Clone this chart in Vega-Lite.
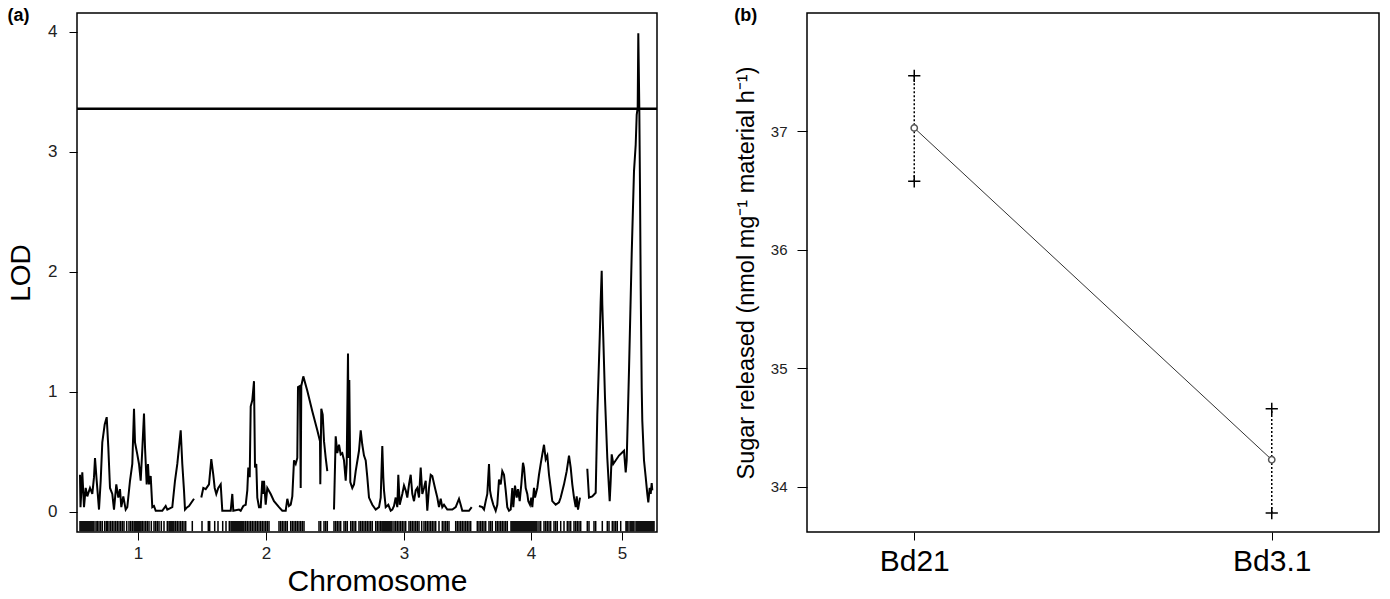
{
  "$schema": "https://vega.github.io/schema/vega-lite/v6.json",
  "background": "white",
  "padding": {"left": 6, "top": 6, "right": 8, "bottom": 4},
  "spacing": 74,
  "config": {
    "font": "Liberation Sans",
    "view": {"stroke": "black", "strokeWidth": 1.5},
    "axis": {"grid": false, "domain": false, "tickColor": "black", "tickSize": 8, "labelColor": "#222", "titleColor": "black", "titleFontWeight": "normal", "labelFont": "Liberation Sans", "titleFont": "Liberation Sans"},
    "title": {"anchor": "start", "frame": "bounds", "fontSize": 18, "fontWeight": "bold", "offset": 0, "dy": 16, "color": "black", "font": "Liberation Sans"}
  },
  "datasets": {
    "lod": [
      {"chr":1,"pos":3,"lod":0.31},{"chr":1,"pos":3.5,"lod":0.04},{"chr":1,"pos":5.3,"lod":0.33},{"chr":1,"pos":7,"lod":0.04},{"chr":1,"pos":8.7,"lod":0.2},{"chr":1,"pos":10.3,"lod":0.13},{"chr":1,"pos":13,"lod":0.2},{"chr":1,"pos":15.3,"lod":0.15},{"chr":1,"pos":17,"lod":0.29},{"chr":1,"pos":18,"lod":0.45},{"chr":1,"pos":19.7,"lod":0.26},{"chr":1,"pos":22,"lod":0.02},{"chr":1,"pos":23.7,"lod":0.26},{"chr":1,"pos":25.3,"lod":0.58},{"chr":1,"pos":27.7,"lod":0.73},{"chr":1,"pos":29.7,"lod":0.79},{"chr":1,"pos":31.3,"lod":0.54},{"chr":1,"pos":33,"lod":0.2},{"chr":1,"pos":35.3,"lod":0.15},{"chr":1,"pos":37,"lod":0.02},{"chr":1,"pos":39.3,"lod":0.23},{"chr":1,"pos":41.3,"lod":0.12},{"chr":1,"pos":43,"lod":0.19},{"chr":1,"pos":44.3,"lod":0.04},{"chr":1,"pos":46.3,"lod":0.13},{"chr":1,"pos":48.7,"lod":0.02},{"chr":1,"pos":50.3,"lod":0.04},{"chr":1,"pos":53,"lod":0.26},{"chr":1,"pos":55.3,"lod":0.4},{"chr":1,"pos":57,"lod":0.86},{"chr":1,"pos":58,"lod":0.58},{"chr":1,"pos":60.3,"lod":0.48},{"chr":1,"pos":62,"lod":0.4},{"chr":1,"pos":63.7,"lod":0.26},{"chr":1,"pos":65.3,"lod":0.52},{"chr":1,"pos":67,"lod":0.82},{"chr":1,"pos":68,"lod":0.54},{"chr":1,"pos":69.7,"lod":0.23},{"chr":1,"pos":71,"lod":0.4},{"chr":1,"pos":72,"lod":0.23},{"chr":1,"pos":73.7,"lod":0.3},{"chr":1,"pos":75.3,"lod":0.04},{"chr":1,"pos":77,"lod":0.05},{"chr":1,"pos":78.7,"lod":0.01},{"chr":1,"pos":82,"lod":0.01},{"chr":1,"pos":85.3,"lod":0.01},{"chr":1,"pos":88.7,"lod":0.05},{"chr":1,"pos":90.3,"lod":0.02},{"chr":1,"pos":95.3,"lod":0.04},{"chr":1,"pos":98,"lod":0.26},{"chr":1,"pos":100.3,"lod":0.4},{"chr":1,"pos":102,"lod":0.54},{"chr":1,"pos":103.7,"lod":0.68},{"chr":1,"pos":105.3,"lod":0.4},{"chr":1,"pos":107,"lod":0.18},{"chr":1,"pos":108,"lod":0.02},{"chr":1,"pos":110.3,"lod":0.04},{"chr":1,"pos":112,"lod":0.05},{"chr":1,"pos":117,"lod":0.11},
      {"chr":2,"pos":124.3,"lod":0.12},{"chr":2,"pos":126.3,"lod":0.2},{"chr":2,"pos":128.7,"lod":0.19},{"chr":2,"pos":132,"lod":0.23},{"chr":2,"pos":134.3,"lod":0.44},{"chr":2,"pos":136.3,"lod":0.31},{"chr":2,"pos":137.7,"lod":0.2},{"chr":2,"pos":139.3,"lod":0.15},{"chr":2,"pos":141.3,"lod":0.2},{"chr":2,"pos":143.7,"lod":0.23},{"chr":2,"pos":145.3,"lod":0.01},{"chr":2,"pos":153.7,"lod":0.01},{"chr":2,"pos":155.3,"lod":0.15},{"chr":2,"pos":156.3,"lod":0.01},{"chr":2,"pos":162,"lod":0.02},{"chr":2,"pos":163.7,"lod":0.01},{"chr":2,"pos":166.3,"lod":0.05},{"chr":2,"pos":168.7,"lod":0.06},{"chr":2,"pos":170.3,"lod":0.18},{"chr":2,"pos":171.3,"lod":0.37},{"chr":2,"pos":172.7,"lod":0.29},{"chr":2,"pos":173.7,"lod":0.88},{"chr":2,"pos":175.3,"lod":0.93},{"chr":2,"pos":177,"lod":1.09},{"chr":2,"pos":178,"lod":0.37},{"chr":2,"pos":179.3,"lod":0.4},{"chr":2,"pos":180.3,"lod":0.12},{"chr":2,"pos":182,"lod":0.04},{"chr":2,"pos":183.7,"lod":0.04},{"chr":2,"pos":185.3,"lod":0.26},{"chr":2,"pos":186.3,"lod":0.15},{"chr":2,"pos":187,"lod":0.26},{"chr":2,"pos":188.7,"lod":0.06},{"chr":2,"pos":190.3,"lod":0.2},{"chr":2,"pos":193.7,"lod":0.15},{"chr":2,"pos":197,"lod":0.09},{"chr":2,"pos":202,"lod":0.04},{"chr":2,"pos":205.3,"lod":0.01},{"chr":2,"pos":208.7,"lod":0.01},{"chr":2,"pos":210.3,"lod":0.11},{"chr":2,"pos":212,"lod":0.05},{"chr":2,"pos":213.7,"lod":0.06},{"chr":2,"pos":215.3,"lod":0.13},{"chr":2,"pos":217,"lod":0.43},{"chr":2,"pos":218.7,"lod":0.4},{"chr":2,"pos":220.3,"lod":0.45},{"chr":2,"pos":221,"lod":1.04},{"chr":2,"pos":223,"lod":1.05},{"chr":2,"pos":223.7,"lod":0.2},{"chr":2,"pos":224.3,"lod":1.05},{"chr":2,"pos":226.3,"lod":1.13},{"chr":2,"pos":230.3,"lod":1.01},{"chr":2,"pos":235.3,"lod":0.84},{"chr":2,"pos":240.3,"lod":0.68},{"chr":2,"pos":243,"lod":0.59},{"chr":2,"pos":243.3,"lod":0.23},{"chr":2,"pos":244.3,"lod":0.86},{"chr":2,"pos":245.7,"lod":0.81},{"chr":2,"pos":247,"lod":0.59},{"chr":2,"pos":248.7,"lod":0.45},{"chr":2,"pos":250.3,"lod":0.34},
      {"chr":3,"pos":257,"lod":0.02},{"chr":3,"pos":258.7,"lod":0.63},{"chr":3,"pos":260.3,"lod":0.49},{"chr":3,"pos":262,"lod":0.56},{"chr":3,"pos":263.7,"lod":0.48},{"chr":3,"pos":265.3,"lod":0.49},{"chr":3,"pos":267,"lod":0.43},{"chr":3,"pos":268.7,"lod":0.26},{"chr":3,"pos":269.7,"lod":0.4},{"chr":3,"pos":271,"lod":1.32},{"chr":3,"pos":271.7,"lod":0.45},{"chr":3,"pos":272.3,"lod":1.1},{"chr":3,"pos":273.3,"lod":0.25},{"chr":3,"pos":275.3,"lod":0.2},{"chr":3,"pos":277,"lod":0.23},{"chr":3,"pos":278.7,"lod":0.34},{"chr":3,"pos":282,"lod":0.51},{"chr":3,"pos":283.7,"lod":0.68},{"chr":3,"pos":285.3,"lod":0.56},{"chr":3,"pos":287,"lod":0.47},{"chr":3,"pos":288.7,"lod":0.43},{"chr":3,"pos":290.3,"lod":0.29},{"chr":3,"pos":292,"lod":0.12},{"chr":3,"pos":295.3,"lod":0.06},{"chr":3,"pos":298.7,"lod":0.02},{"chr":3,"pos":302,"lod":0.04},{"chr":3,"pos":303.7,"lod":0.12},{"chr":3,"pos":305.3,"lod":0.55},{"chr":3,"pos":306.3,"lod":0.29},{"chr":3,"pos":307,"lod":0.18},{"chr":3,"pos":308.7,"lod":0.04},{"chr":3,"pos":311.3,"lod":0.06},{"chr":3,"pos":313.7,"lod":0.01},{"chr":3,"pos":315.3,"lod":0.02},{"chr":3,"pos":317,"lod":0.05},{"chr":3,"pos":318.7,"lod":0.12},{"chr":3,"pos":320.3,"lod":0.04},{"chr":3,"pos":321.3,"lod":0.31},{"chr":3,"pos":322.7,"lod":0.06},{"chr":3,"pos":325.3,"lod":0.15},{"chr":3,"pos":327,"lod":0.22},{"chr":3,"pos":328.7,"lod":0.18},{"chr":3,"pos":330.3,"lod":0.12},{"chr":3,"pos":332,"lod":0.23},{"chr":3,"pos":333.7,"lod":0.31},{"chr":3,"pos":335.3,"lod":0.15},{"chr":3,"pos":337,"lod":0.09},{"chr":3,"pos":338.7,"lod":0.18},{"chr":3,"pos":340.3,"lod":0.2},{"chr":3,"pos":342,"lod":0.12},{"chr":3,"pos":343.7,"lod":0.37},{"chr":3,"pos":345.3,"lod":0.15},{"chr":3,"pos":347,"lod":0.2},{"chr":3,"pos":348.7,"lod":0.26},{"chr":3,"pos":350.3,"lod":0.01},{"chr":3,"pos":352,"lod":0.2},{"chr":3,"pos":353.7,"lod":0.31},{"chr":3,"pos":355.3,"lod":0.3},{"chr":3,"pos":358,"lod":0.2},{"chr":3,"pos":360.3,"lod":0.12},{"chr":3,"pos":362,"lod":0.04},{"chr":3,"pos":363.7,"lod":0.11},{"chr":3,"pos":365.3,"lod":0.04},{"chr":3,"pos":367,"lod":0.06},{"chr":3,"pos":370.3,"lod":0.02},{"chr":3,"pos":375.3,"lod":0.02},{"chr":3,"pos":378.7,"lod":0.04},{"chr":3,"pos":382,"lod":0.11},{"chr":3,"pos":383.7,"lod":0.06},{"chr":3,"pos":385.3,"lod":0.01},{"chr":3,"pos":392,"lod":0.01},{"chr":3,"pos":394.7,"lod":0.04},
      {"chr":4,"pos":402,"lod":0.05},{"chr":4,"pos":405.3,"lod":0.04},{"chr":4,"pos":407,"lod":0.02},{"chr":4,"pos":408.7,"lod":0.09},{"chr":4,"pos":410.3,"lod":0.15},{"chr":4,"pos":412,"lod":0.4},{"chr":4,"pos":413,"lod":0.18},{"chr":4,"pos":414.3,"lod":0.12},{"chr":4,"pos":416.3,"lod":0.06},{"chr":4,"pos":418.7,"lod":0.01},{"chr":4,"pos":420.3,"lod":0.06},{"chr":4,"pos":422,"lod":0.27},{"chr":4,"pos":423.7,"lod":0.23},{"chr":4,"pos":425.3,"lod":0.34},{"chr":4,"pos":427,"lod":0.31},{"chr":4,"pos":428.7,"lod":0.18},{"chr":4,"pos":430.3,"lod":0.04},{"chr":4,"pos":432,"lod":0.01},{"chr":4,"pos":433.7,"lod":0.02},{"chr":4,"pos":435.3,"lod":0.2},{"chr":4,"pos":436.3,"lod":0.04},{"chr":4,"pos":438,"lod":0.22},{"chr":4,"pos":439.7,"lod":0.12},{"chr":4,"pos":441,"lod":0.19},{"chr":4,"pos":442.7,"lod":0.09},{"chr":4,"pos":444.3,"lod":0.23},{"chr":4,"pos":446,"lod":0.41},{"chr":4,"pos":447,"lod":0.37},{"chr":4,"pos":448.7,"lod":0.2},{"chr":4,"pos":450.3,"lod":0.15},{"chr":4,"pos":451.3,"lod":0.09},{"chr":4,"pos":453,"lod":0.06},{"chr":4,"pos":454.3,"lod":0.12},{"chr":4,"pos":455.3,"lod":0.04},{"chr":4,"pos":457,"lod":0.2},{"chr":4,"pos":458,"lod":0.12},{"chr":4,"pos":460.3,"lod":0.2},{"chr":4,"pos":462,"lod":0.31},{"chr":4,"pos":463.7,"lod":0.4},{"chr":4,"pos":465.3,"lod":0.48},{"chr":4,"pos":467,"lod":0.56},{"chr":4,"pos":468.7,"lod":0.44},{"chr":4,"pos":470.3,"lod":0.47},{"chr":4,"pos":472,"lod":0.31},{"chr":4,"pos":473.7,"lod":0.2},{"chr":4,"pos":475.3,"lod":0.09},{"chr":4,"pos":478.7,"lod":0.06},{"chr":4,"pos":482,"lod":0.08},{"chr":4,"pos":483.7,"lod":0.12},{"chr":4,"pos":487,"lod":0.23},{"chr":4,"pos":489.7,"lod":0.34},{"chr":4,"pos":492,"lod":0.47},{"chr":4,"pos":493.7,"lod":0.37},{"chr":4,"pos":495.3,"lod":0.23},{"chr":4,"pos":497,"lod":0.12},{"chr":4,"pos":498.7,"lod":0.04},{"chr":4,"pos":499.7,"lod":0.13},{"chr":4,"pos":501,"lod":0.02},{"chr":4,"pos":503,"lod":0.12},
      {"chr":5,"pos":510.3,"lod":0.36},{"chr":5,"pos":512,"lod":0.12},{"chr":5,"pos":515.3,"lod":0.13},{"chr":5,"pos":518.7,"lod":0.16},{"chr":5,"pos":520.3,"lod":0.81},{"chr":5,"pos":522.7,"lod":1.45},{"chr":5,"pos":523.7,"lod":1.76},{"chr":5,"pos":524.7,"lod":2.01},{"chr":5,"pos":525.3,"lod":1.73},{"chr":5,"pos":526.3,"lod":1.45},{"chr":5,"pos":528,"lod":0.95},{"chr":5,"pos":530.3,"lod":0.45},{"chr":5,"pos":532.7,"lod":0.09},{"chr":5,"pos":533.7,"lod":0.26},{"chr":5,"pos":534.7,"lod":0.48},{"chr":5,"pos":536.3,"lod":0.4},{"chr":5,"pos":542,"lod":0.47},{"chr":5,"pos":547,"lod":0.51},{"chr":5,"pos":548.7,"lod":0.33},{"chr":5,"pos":549.7,"lod":0.43},{"chr":5,"pos":552,"lod":1.18},{"chr":5,"pos":554.7,"lod":2.15},{"chr":5,"pos":557,"lod":2.84},{"chr":5,"pos":558.7,"lod":3.06},{"chr":5,"pos":559.7,"lod":3.31},{"chr":5,"pos":560.7,"lod":3.37},{"chr":5,"pos":561.3,"lod":3.99},{"chr":5,"pos":562.3,"lod":3.37},{"chr":5,"pos":563,"lod":2.7},{"chr":5,"pos":563.7,"lod":1.87},{"chr":5,"pos":564.7,"lod":1.04},{"chr":5,"pos":565.3,"lod":0.76},{"chr":5,"pos":567,"lod":0.43},{"chr":5,"pos":568.7,"lod":0.29},{"chr":5,"pos":570.3,"lod":0.15},{"chr":5,"pos":571.3,"lod":0.08},{"chr":5,"pos":572.7,"lod":0.2},{"chr":5,"pos":573.7,"lod":0.15},{"chr":5,"pos":574.7,"lod":0.24},{"chr":5,"pos":575.3,"lod":0.18}
    ],
    "markers": [
      {"m":3},{"m":4},{"m":5},{"m":6},{"m":7},{"m":8},{"m":9},{"m":10},{"m":11},{"m":12},{"m":13},{"m":14},{"m":15},{"m":16},{"m":17},{"m":19},{"m":20.3},{"m":22},{"m":23.7},{"m":25.3},{"m":27.7},{"m":29.3},{"m":30.3},{"m":32},{"m":33.7},{"m":35.3},{"m":37},{"m":38.7},{"m":40.3},{"m":42},{"m":43.7},{"m":45.3},{"m":47},{"m":49.7},{"m":52},{"m":53.7},{"m":55.3},{"m":57},{"m":58},{"m":59},{"m":60},{"m":61},{"m":62},{"m":63},{"m":64},{"m":65.3},{"m":67},{"m":68.7},{"m":70.3},{"m":72},{"m":74.3},{"m":77},{"m":78.7},{"m":80.3},{"m":82},{"m":84.3},{"m":87},{"m":90.3},{"m":92},{"m":93},{"m":94},{"m":95},{"m":96},{"m":97},{"m":98.7},{"m":100.3},{"m":102},{"m":103.7},{"m":105.3},{"m":107},{"m":108.7},{"m":115.3},
      {"m":125},{"m":131.3},{"m":132.7},{"m":137.7},{"m":141},{"m":145.7},{"m":149},{"m":152.3},{"m":154},{"m":155},{"m":156},{"m":157},{"m":158},{"m":159},{"m":160},{"m":161},{"m":162},{"m":163},{"m":164},{"m":165},{"m":166},{"m":167},{"m":168.7},{"m":170.3},{"m":172},{"m":173.7},{"m":175.3},{"m":177},{"m":178.7},{"m":180.3},{"m":182},{"m":183.7},{"m":185.3},{"m":187},{"m":188.7},{"m":190.3},{"m":192},{"m":202},{"m":203.7},{"m":205.3},{"m":207},{"m":208.7},{"m":210.3},{"m":213.7},{"m":215.3},{"m":217},{"m":218.7},{"m":220.3},{"m":222},{"m":223.7},{"m":225.3},{"m":227},{"m":242},{"m":243.7},{"m":247},{"m":248.7},{"m":250.3},
      {"m":257},{"m":258.7},{"m":260.3},{"m":262},{"m":263.7},{"m":267},{"m":268.7},{"m":270.3},{"m":273.7},{"m":275.3},{"m":277},{"m":278.7},{"m":282},{"m":283.7},{"m":285.3},{"m":287},{"m":288.7},{"m":290.3},{"m":292},{"m":293.7},{"m":295.3},{"m":298.7},{"m":300.3},{"m":302},{"m":303.7},{"m":305},{"m":306},{"m":307},{"m":308},{"m":309},{"m":310},{"m":311},{"m":312},{"m":313},{"m":314},{"m":315},{"m":317},{"m":318.7},{"m":320.3},{"m":322},{"m":323.7},{"m":325.3},{"m":327},{"m":328.7},{"m":332},{"m":333.7},{"m":335.3},{"m":337},{"m":338.7},{"m":340.3},{"m":342},{"m":344.7},{"m":347},{"m":348.7},{"m":350.3},{"m":352},{"m":353.7},{"m":355.3},{"m":357},{"m":358.7},{"m":362},{"m":365.3},{"m":367},{"m":368.7},{"m":370.3},{"m":372},{"m":378.7},{"m":380.3},{"m":382},{"m":383.7},{"m":385.3},{"m":387},{"m":388.7},{"m":390.3},{"m":392},{"m":393.7},
      {"m":400.3},{"m":402},{"m":403.7},{"m":405.3},{"m":407},{"m":408.7},{"m":412},{"m":413.7},{"m":415.3},{"m":418.7},{"m":420.3},{"m":422},{"m":423.7},{"m":425.3},{"m":427},{"m":428.7},{"m":430.3},{"m":434},{"m":435},{"m":436},{"m":437},{"m":438},{"m":439},{"m":440},{"m":441},{"m":442},{"m":443},{"m":444},{"m":445},{"m":446},{"m":447},{"m":448},{"m":449},{"m":450},{"m":451},{"m":452},{"m":453},{"m":454},{"m":455},{"m":456},{"m":457},{"m":458},{"m":459},{"m":460},{"m":462},{"m":463.7},{"m":467},{"m":468.7},{"m":470.3},{"m":472},{"m":473.7},{"m":477},{"m":478.7},{"m":480.3},{"m":483.7},{"m":487},{"m":490.3},{"m":492},{"m":493.7},{"m":497},{"m":498.7},{"m":500.3},{"m":502},
      {"m":503.7},{"m":510.3},{"m":512},{"m":517},{"m":518.7},{"m":525.3},{"m":530.3},{"m":532},{"m":535.3},{"m":537},{"m":538.7},{"m":540.3},{"m":543.7},{"m":549},{"m":550},{"m":551},{"m":553},{"m":554},{"m":555},{"m":556},{"m":557},{"m":559},{"m":560},{"m":561},{"m":562},{"m":563},{"m":564},{"m":565},{"m":566},{"m":567},{"m":568},{"m":569},{"m":570},{"m":571},{"m":572},{"m":573},{"m":574},{"m":575},{"m":576},{"m":577}
    ],
    "sugar": [
      {"genotype":"Bd21","mean":37.03,"lower":36.58,"upper":37.47},
      {"genotype":"Bd3.1","mean":34.23,"lower":33.78,"upper":34.66}
    ]
  },
  "hconcat": [
    {
      "width": 580,
      "height": 519,
      "title": {"text": "(a)"},
      "layer": [
        {
          "data": {"name": "lod"},
          "mark": {"type": "line", "color": "black", "strokeWidth": 2},
          "encoding": {
            "x": {"field": "pos", "type": "quantitative", "scale": {"domain": [0, 580], "nice": false, "zero": false},
                  "axis": {"values": [61, 189, 327, 454, 545], "labelExpr": "datum.value < 120 ? '1' : datum.value < 255 ? '2' : datum.value < 400 ? '3' : datum.value < 508 ? '4' : '5'", "title": "Chromosome", "titleFontSize": 30, "labelFontSize": 17, "labelPadding": 5, "titlePadding": 5, "titleX": 300}},
            "y": {"field": "lod", "type": "quantitative", "scale": {"domain": [-0.167, 4.158], "nice": false, "zero": false},
                  "axis": {"values": [0, 1, 2, 3, 4], "format": "d", "title": "LOD", "titleFontSize": 28, "labelFontSize": 17, "labelPadding": 12, "titlePadding": 12}},
            "detail": {"field": "chr", "type": "nominal"}
          }
        },
        {
          "data": {"name": "markers"},
          "mark": {"type": "rule", "color": "black", "strokeWidth": 1.5},
          "encoding": {
            "x": {"field": "m", "type": "quantitative"},
            "y": {"datum": -0.16},
            "y2": {"datum": -0.075}
          }
        },
        {
          "data": {"values": [{"threshold": 3.36}]},
          "mark": {"type": "rule", "color": "black", "strokeWidth": 2.5},
          "encoding": {"y": {"field": "threshold", "type": "quantitative"}}
        }
      ]
    },
    {
      "width": 572,
      "height": 519,
      "title": {"text": "(b)"},
      "data": {"name": "sugar"},
      "encoding": {
        "x": {"field": "genotype", "type": "nominal", "scale": {"type": "point", "padding": 0.3, "domain": ["Bd21", "Bd3.1"]},
              "axis": {"title": null, "labelAngle": 0, "labelFontSize": 30, "labelColor": "black", "labelPadding": 6, "tickSize": 8}}
      },
      "layer": [
        {
          "mark": {"type": "rule", "color": "black", "strokeWidth": 1.5, "strokeDash": [2, 2]},
          "encoding": {
            "y": {"field": "lower", "type": "quantitative", "scale": {"domain": [33.62, 38.0], "nice": false, "zero": false},
                  "axis": {"values": [34, 35, 36, 37], "format": "d", "title": "Sugar released  (nmol mg⁻¹ material h⁻¹)", "titleFontSize": 23.5, "labelFontSize": 15, "labelPadding": 10, "tickSize": 10, "titlePadding": 12}},
            "y2": {"field": "upper"}
          }
        },
        {
          "mark": {"type": "line", "color": "#333", "strokeWidth": 1},
          "encoding": {"y": {"field": "mean", "type": "quantitative"}}
        },
        {
          "mark": {"type": "point", "shape": "circle", "size": 40, "filled": false, "fill": "white", "fillOpacity": 1, "stroke": "#555", "strokeWidth": 1.5, "opacity": 1},
          "encoding": {"y": {"field": "mean", "type": "quantitative"}}
        },
        {
          "mark": {"type": "point", "shape": "M-1,0L1,0M0,-1L0,1", "size": 150, "filled": false, "stroke": "black", "strokeWidth": 1.5, "opacity": 1},
          "encoding": {"y": {"field": "upper", "type": "quantitative"}}
        },
        {
          "mark": {"type": "point", "shape": "M-1,0L1,0M0,-1L0,1", "size": 150, "filled": false, "stroke": "black", "strokeWidth": 1.5, "opacity": 1},
          "encoding": {"y": {"field": "lower", "type": "quantitative"}}
        }
      ]
    }
  ]
}
